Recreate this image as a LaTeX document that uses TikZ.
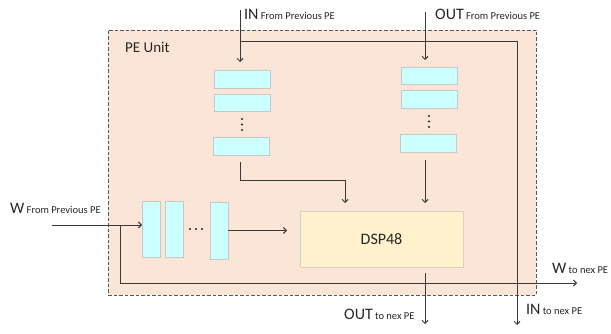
\documentclass[tikz,border=0pt]{standalone}
\usepackage{fontspec}
\setmainfont{Carlito}
\usetikzlibrary{arrows.meta}
\definecolor{peach}{HTML}{FBE5D6}
\definecolor{cellfill}{HTML}{CCFFFF}
\definecolor{cellline}{HTML}{C8C8C8}
\definecolor{dspfill}{HTML}{FFF2CC}
\definecolor{dspline}{HTML}{D9D2C0}
\definecolor{ink}{HTML}{3A3A3A}
\newcommand\lblbig{\fontsize{16}{18}\selectfont}
\newcommand\lblsmall{\fontsize{10.5}{12}\selectfont}
\begin{document}
\begin{tikzpicture}[x=1pt,y=-1pt,
  cell/.style={draw=cellline, fill=cellfill, line width=0.8pt, outer sep=0pt, inner sep=0pt},
  wire/.style={draw=ink, line width=0.9pt},
  arr/.style={wire, -{Straight Barb[length=3pt,width=6pt]}},
  lbl/.style={text=black!85, inner sep=0pt, anchor=base west},
  dotm/.style={fill=black!85},
]
\useasboundingbox (0,0) rectangle (611,334);
% PE unit
\node[draw=ink!85, dash pattern=on 3.5pt off 2pt, fill=peach, line width=0.8pt,
      minimum width=428pt, minimum height=265pt, anchor=north west, inner sep=0pt, outer sep=0pt] (pe) at (108,30) {};
\node[lbl, font=\fontsize{15}{17}\selectfont] (peLbl) at (125,53) {PE Unit};
% IN column
\node[cell, minimum width=56pt, minimum height=18pt] (inb1) at (242,79) {};
\node[cell, minimum width=56pt, minimum height=17pt] (inb2) at (242,102.5) {};
\node[cell, minimum width=56pt, minimum height=18pt] (inb3) at (241,146) {};
\fill[dotm] (242,119) circle (1.2pt) (242,124.5) circle (1.2pt) (242,130) circle (1.2pt);
% OUT column
\node[cell, minimum width=56pt, minimum height=17pt] (outb1) at (429,75.5) {};
\node[cell, minimum width=56pt, minimum height=18pt] (outb2) at (429,99) {};
\node[cell, minimum width=56pt, minimum height=18pt] (outb3) at (428,143) {};
\fill[dotm] (429,116) circle (1.2pt) (429,121.5) circle (1.2pt) (429,127) circle (1.2pt);
% W row
\node[cell, minimum width=18pt, minimum height=56pt] (wb1) at (151,229) {};
\node[cell, minimum width=18pt, minimum height=56pt] (wb2) at (174,229) {};
\node[cell, minimum width=18pt, minimum height=57pt] (wb3) at (219,230.5) {};
\fill[dotm] (190,229) circle (1.2pt) (196,229) circle (1.2pt) (202,229) circle (1.2pt);
% DSP48
\node[draw=dspline, fill=dspfill, line width=0.8pt, minimum width=163pt, minimum height=56pt,
      inner sep=0pt, outer sep=0pt, font=\fontsize{16}{18}\selectfont, text=black!85] (dsp) at (381.5,239) {DSP48};
% coordinates
\coordinate (inTop) at (240,10);
\coordinate (inJ) at (240,41);
\coordinate (inEnd) at (517,325);
\coordinate (outTop) at (425,12);
\coordinate (inMid) at (345,180);
\coordinate (wIn) at (52,225);
\coordinate (wJ) at (120,225);
\coordinate (wEnd) at (577,283);
\coordinate (outEnd) at (425,324);
% connectors
\draw[arr, shorten >=8pt] (inTop) -- (inTop |- inb1.north);
\draw[arr] (inJ) -| (inEnd);
\draw[arr, shorten >=7pt] (outTop) -- (outTop |- outb1.north);
\draw[arr, shorten <=7pt, shorten >=8pt] (inb3.south -| inTop) |- (inMid) -- (inMid |- dsp.north);
\draw[arr, shorten <=8pt, shorten >=8pt] (outb3.south -| outTop) -- (outTop |- dsp.north);
\draw[arr] (wIn) -- (wIn -| wb1.west);
\draw[arr] (wJ) |- (wEnd);
\draw[arr, shorten >=13pt] (wb3.east) -- (wb3.east -| dsp.west);
\draw[arr, shorten <=6pt] (dsp.south -| outTop) -- (outEnd);
% labels
\node[lbl] (inLbl) at (244,20) {{\lblbig IN} {\lblsmall From Previous PE}};
\node[lbl] (outLbl) at (435,20) {{\lblbig OUT} {\lblsmall From Previous PE}};
\node[lbl] (wLbl) at (10,214) {{\lblbig W} {\lblsmall From Previous PE}};
\node[lbl] (wOutLbl) at (552,273) {{\lblbig W} {\lblsmall to nex PE}};
\node[lbl] (outOutLbl) at (344,319) {{\lblbig OUT} {\lblsmall to nex PE}};
\node[lbl] (inOutLbl) at (526,314) {{\lblbig IN} {\lblsmall to nex PE}};
\end{tikzpicture}
\end{document}
